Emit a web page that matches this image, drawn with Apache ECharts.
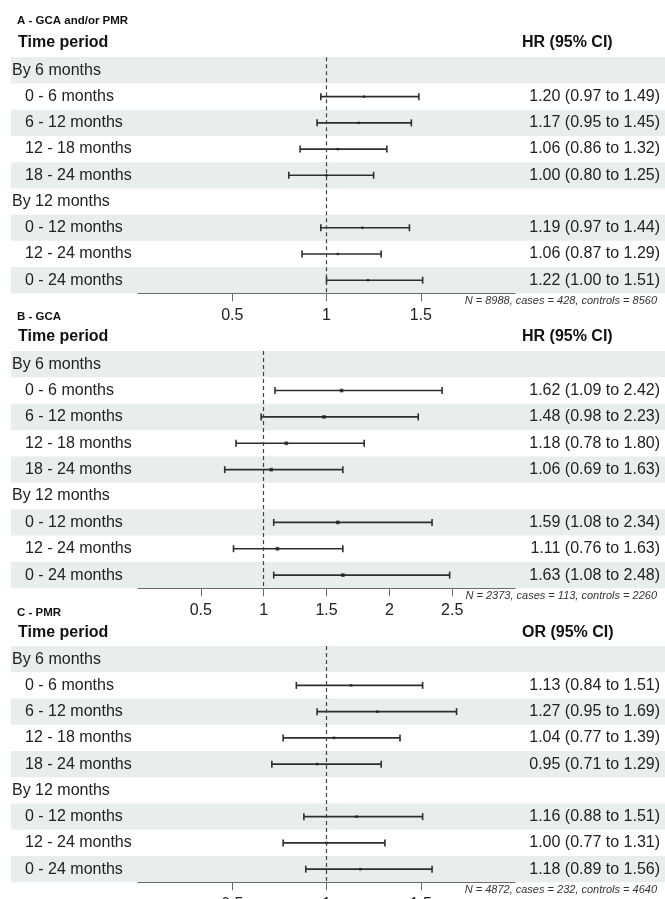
<!DOCTYPE html>
<html><head><meta charset="utf-8">
<script src="https://cdn.jsdelivr.net/npm/echarts@6/dist/echarts.min.js"></script>
<style>html,body{margin:0;padding:0;background:#fff}#c{width:665px;height:899px}</style>
</head><body><div id="c"></div>
<script>
// ---- data ----
const rows = ['By 6 months','0 - 6 months','6 - 12 months','12 - 18 months','18 - 24 months','By 12 months','0 - 12 months','12 - 24 months','0 - 24 months'];
const groupRows = [0, 5];

const estA = [null,1.20,1.17,1.06,1.00,null,1.19,1.06,1.22];
const loA  = [null,0.97,0.95,0.86,0.80,null,0.97,0.87,1.00];
const hiA  = [null,1.49,1.45,1.32,1.25,null,1.44,1.29,1.51];

const estB = [null,1.62,1.48,1.18,1.06,null,1.59,1.11,1.63];
const loB  = [null,1.09,0.98,0.78,0.69,null,1.08,0.76,1.08];
const hiB  = [null,2.42,2.23,1.80,1.63,null,2.34,1.63,2.48];

const estC = [null,1.13,1.27,1.04,0.95,null,1.16,1.00,1.18];
const loC  = [null,0.84,0.95,0.77,0.71,null,0.88,0.77,0.89];
const hiC  = [null,1.51,1.69,1.39,1.29,null,1.51,1.31,1.56];

const ticksA = [0.5, 1, 1.5];
const ticksB = [0.5, 1, 1.5, 2, 2.5];
const ticksC = [0.5, 1, 1.5];

const panelTitles = ['A - GCA and/or PMR', 'B - GCA', 'C - PMR'];
const measureLabels = ['HR (95% CI)', 'HR (95% CI)', 'OR (95% CI)'];
const notes = ['N = 8988, cases = 428, controls = 8560', 'N = 2373, cases = 113, controls = 2260', 'N = 4872, cases = 232, controls = 4640'];
const refValue = 1;

// ---- layout ----
const FONT = '"Liberation Sans", Arial, Helvetica, sans-serif';
const panels = [
  {est: estA, lo: loA, hi: hiA, ticks: ticksA, max: 2, top: 57.3, height: 236, titleY: 21.5, headY: 44, dot: 2.4},
  {est: estB, lo: loB, hi: hiB, ticks: ticksB, max: 3, top: 351, height: 237.3, titleY: 318, headY: 338.5, dot: 3.6},
  {est: estC, lo: loC, hi: hiC, ticks: ticksC, max: 2, top: 646, height: 236.3, titleY: 614, headY: 634, dot: 2.6}
];
const GL = 138, GW = 377;

function fmt(e, l, h) { return e.toFixed(2) + ' (' + l.toFixed(2) + ' to ' + h.toFixed(2) + ')'; }

const grid = [], xAxis = [], yAxis = [], series = [], graphic = [];
panels.forEach((p, k) => {
  grid.push({left: GL, width: GW, top: p.top, height: p.height, outerBoundsMode: 'none', containLabel: false});
  xAxis.push({
    gridIndex: k, type: 'value', min: 0, max: p.max, position: 'bottom',
    axisLine: {show: true, onZero: false, lineStyle: {color: '#6b6b6b', width: 1}},
    axisTick: {show: true, customValues: p.ticks, length: 8, lineStyle: {color: '#6b6b6b', width: 1}},
    axisLabel: {customValues: p.ticks, fontSize: 16, color: '#222', margin: 14, fontFamily: FONT},
    splitLine: {show: false}
  });
  yAxis.push({
    gridIndex: k, type: 'category', data: rows, inverse: true,
    axisLine: {show: false}, axisTick: {show: false}, splitLine: {show: false},
    axisLabel: {
      interval: 0, align: 'left', margin: GL - 12, color: '#222', fontSize: 16, fontFamily: FONT,
      formatter: (v, i) => groupRows.includes(i) ? '{g|' + v + '}' : '{s|' + v + '}',
      rich: {
        g: {fontSize: 16, color: '#222', fontFamily: FONT},
        s: {fontSize: 16, color: '#222', fontFamily: FONT, padding: [0, 0, 0, 13]}
      }
    }
  });
  const rightLabels = rows.map((r, i) => p.est[i] == null ? '' : fmt(p.est[i], p.lo[i], p.hi[i]));
  yAxis.push({
    gridIndex: k, type: 'category', data: rightLabels, inverse: true, position: 'right',
    axisLine: {show: false}, axisTick: {show: false}, splitLine: {show: false},
    axisLabel: {interval: 0, align: 'right', margin: 660 - (GL + GW), color: '#222', fontSize: 16, fontFamily: FONT}
  });
  // shaded row bands
  series.push({
    type: 'custom', xAxisIndex: k, yAxisIndex: 2 * k, z: -1, silent: true, clip: false,
    data: rows.map((r, i) => [0, i]).filter(d => d[1] % 2 === 0),
    renderItem: (params, api) => {
      const c = api.coord([0, api.value(1)]);
      const h = api.size([0, 1])[1];
      return {type: 'rect', shape: {x: 11, y: c[1] - h / 2, width: api.getWidth() - 11, height: h},
              style: {fill: '#e8eeeb'}};
    }
  });
  // confidence intervals
  const ciData = rows.map((r, i) => p.est[i] == null ? null : [p.est[i], i, p.lo[i], p.hi[i]]).filter(d => d);
  series.push({
    type: 'custom', xAxisIndex: k, yAxisIndex: 2 * k, z: 3, silent: true,
    encode: {x: [0, 2, 3], y: 1},
    data: ciData,
    renderItem: (params, api) => {
      const a = api.coord([api.value(2), api.value(1)]);
      const b = api.coord([api.value(3), api.value(1)]);
      const st = {stroke: '#2e2e2e', lineWidth: 1.6};
      return {type: 'group', children: [
        {type: 'line', shape: {x1: a[0], y1: a[1], x2: b[0], y2: b[1]}, style: st},
        {type: 'line', shape: {x1: a[0], y1: a[1] - 3.5, x2: a[0], y2: a[1] + 3.5}, style: st},
        {type: 'line', shape: {x1: b[0], y1: b[1] - 3.5, x2: b[0], y2: b[1] + 3.5}, style: st}
      ]};
    }
  });
  // point estimates + reference line
  series.push({
    type: 'scatter', xAxisIndex: k, yAxisIndex: 2 * k, z: 4, silent: true,
    symbol: 'rect', symbolSize: p.dot, itemStyle: {color: '#1e1e1e'},
    data: ciData.map(d => [d[0], d[1]]),
    markLine: {
      silent: true, symbol: ['none', 'none'], label: {show: false}, animation: false,
      lineStyle: {type: [4, 3], color: '#444', width: 1.2},
      data: [{xAxis: refValue}]
    }
  });
  graphic.push({type: 'text', left: 17, top: p.titleY - 7, style: {text: panelTitles[k], font: 'bold 11.5px ' + FONT, fill: '#111'}});
  graphic.push({type: 'text', left: 18, top: p.headY - 9.5, style: {text: 'Time period', font: 'bold 16px ' + FONT, fill: '#111'}});
  graphic.push({type: 'text', left: 522, top: p.headY - 9.5, style: {text: measureLabels[k], font: 'bold 16px ' + FONT, fill: '#111'}});
  graphic.push({type: 'text', right: 8, top: p.top + p.height + 9 - 6.5, style: {text: notes[k], font: 'italic 11px ' + FONT, fill: '#333'}});
});

const chart = echarts.init(document.getElementById('c'), null, {renderer: 'canvas'});
chart.setOption({
  animation: false,
  backgroundColor: '#fff',
  textStyle: {fontFamily: FONT},
  grid, xAxis, yAxis, series, graphic
});
</script></body></html>
